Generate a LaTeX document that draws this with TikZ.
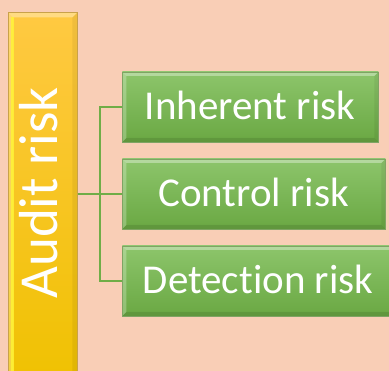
\documentclass[tikz,border=0pt]{standalone}
\usepackage{fontspec}
\setmainfont{Carlito}[Ligatures=NoCommon]
\definecolor{peach}{HTML}{F9CEB6}
\definecolor{goldtop}{HTML}{FFC942}
\definecolor{goldbot}{HTML}{EFC100}
\definecolor{goldedge}{HTML}{C9A24A}
\definecolor{leaftop}{HTML}{8DC56B}
\definecolor{leafbot}{HTML}{6AA843}
\definecolor{leafedge}{HTML}{7FA464}
\definecolor{linkgreen}{HTML}{70AD47}
\tikzset{
  bevel/.style={path picture={
    \coordinate (nw) at (path picture bounding box.north west);
    \coordinate (ne) at (path picture bounding box.north east);
    \coordinate (sw) at (path picture bounding box.south west);
    \coordinate (se) at (path picture bounding box.south east);
    \fill[white,opacity=0.35] (nw) -- (ne) -- ([shift={(-#1,-#1)}]ne) -- ([shift={(#1,-#1)}]nw) -- cycle;
    \fill[white,opacity=0.25] (nw) -- ([shift={(#1,-#1)}]nw) -- ([shift={(#1,#1)}]sw) -- (sw) -- cycle;
    \fill[black,opacity=0.10] (sw) -- (se) -- ([shift={(-#1,#1)}]se) -- ([shift={(#1,#1)}]sw) -- cycle;
    \fill[black,opacity=0.06] (ne) -- (se) -- ([shift={(-#1,#1)}]se) -- ([shift={(-#1,-#1)}]ne) -- cycle;
  }},
  riskbox/.style={draw=leafedge, line width=0.8pt, top color=leaftop, bottom color=leafbot,
    bevel=4pt, minimum height=70pt, inner sep=0pt, anchor=west},
  risklabel/.style={text=white, font=\fontsize{41}{41}\selectfont, anchor=base},
  link/.style={draw=linkgreen, line width=1.5pt}
}
\begin{document}
\begin{tikzpicture}[x=1pt,y=-1pt]
  % page and background
  \useasboundingbox (0,0) rectangle (389,371);
  \fill[peach] (0,0) rectangle (389,371);

  % main heading bar
  \node[draw=goldedge, line width=0.8pt, top color=goldtop, bottom color=goldbot,
        bevel=5pt, minimum width=69pt, minimum height=380pt, inner sep=0pt, anchor=north west]
        (audit) at (8,12) {};
  \fill[yellow!80!white,opacity=0.8] (10.5,17) rectangle (13.5,371);
  \node[text=white, font=\fontsize{55}{55}\selectfont, rotate=90, anchor=base]
        (audittext) at (57,193) {Audit risk};

  % component boxes
  \node[riskbox, minimum width=256pt] (inh) at (122,107) {};
  \node[riskbox, minimum width=263pt] (ctrl) at (122,194) {};
  \node[riskbox, minimum width=272pt] (det) at (122,281) {};
  \node[risklabel] (inhtext) at (250,120) {Inherent risk};
  \node[risklabel] (ctrltext) at (253.5,207) {Control risk};
  \node[risklabel] (dettext) at (258,294) {Detection risk};

  % connectors
  \coordinate (bus) at (100,194);
  \path[link] (audit.east |- ctrl.west) -- (ctrl.west);
  \path[link] (bus) |- (inh.west);
  \path[link] (bus) |- (det.west);
\end{tikzpicture}
\end{document}
